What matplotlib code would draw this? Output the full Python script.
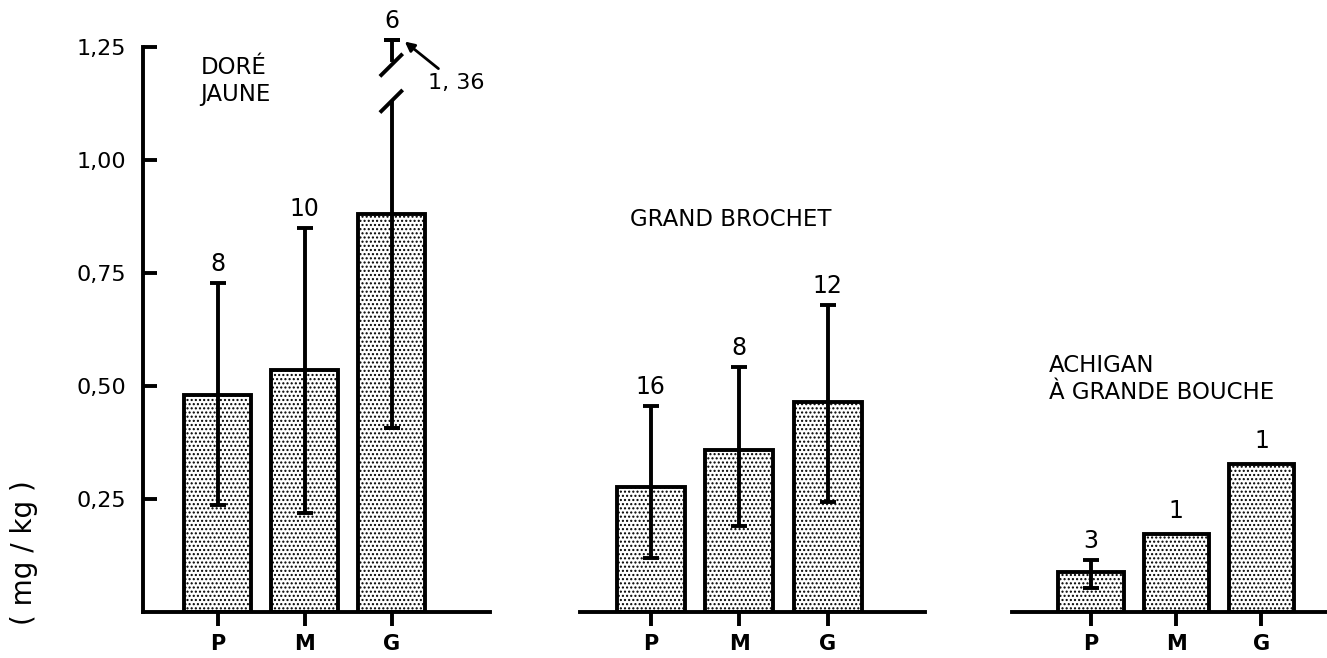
import numpy as np
import matplotlib.pyplot as plt

plt.rcParams["font.family"] = ["DejaVu Sans"]
plt.rcParams["hatch.linewidth"] = 1.0

# fish size classes and y axis (mercury, mg/kg)
sizes = ["P", "M", "G"]
yticks = [0.25, 0.50, 0.75, 1.00, 1.25]
ytick_labels = ["0,25", "0,50", "0,75", "1,00", "1,25"]

species = ["DORÉ\nJAUNE", "GRAND BROCHET", "ACHIGAN\nÀ GRANDE BOUCHE"]

dore_mean = [0.48, 0.535, 0.88]
dore_low = [0.237, 0.22, 0.407]
dore_high = [0.728, 0.85, 1.36]
dore_n = [8, 10, 6]

brochet_mean = [0.277, 0.358, 0.465]
brochet_low = [0.12, 0.19, 0.243]
brochet_high = [0.456, 0.542, 0.68]
brochet_n = [16, 8, 12]

achigan_mean = [0.088, 0.173, 0.327]
achigan_low = [0.053, np.nan, np.nan]
achigan_high = [0.115, np.nan, np.nan]
achigan_n = [3, 1, 1]

W, H = 1327, 658
BASE = 612      # pixel row of the zero line
SCALE = 452     # pixels per mg/kg
YMAX = 1.35
BREAK_TOP = 1.265   # where an off-scale whisker is capped
LW = 2.8

fig = plt.figure(figsize=(W / 100, H / 100), dpi=100)


def add_panel(left, right, xlim):
    ax = fig.add_axes([left / W, (H - BASE) / H, (right - left) / W, YMAX * SCALE / H])
    ax.set_xlim(*xlim)
    ax.set_ylim(0, YMAX)
    ax.patch.set_alpha(0)
    for side in ["top", "right", "left"]:
        ax.spines[side].set_visible(False)
    ax.spines["bottom"].set_linewidth(LW)
    ax.set_xticks(range(3))
    ax.set_xticklabels(sizes, fontsize=15, fontweight="bold")
    ax.tick_params(axis="x", direction="out", length=10, width=LW, pad=6)
    ax.set_yticks([])
    return ax


def draw_group(ax, means, low, high, counts, title, title_xy):
    x = np.arange(3)
    ax.bar(x, means, width=0.77, color="white", edgecolor="black",
           linewidth=LW, hatch="....", zorder=2)
    for i in range(3):
        if np.isnan(high[i]):
            ax.annotate(str(counts[i]), xy=(x[i], means[i]), xytext=(0, 8),
                        textcoords="offset points", ha="center", va="bottom",
                        fontsize=17)
            continue
        if high[i] > BREAK_TOP:
            # whisker runs off the scale: draw it broken and cap it at the top
            ax.errorbar([x[i]], [low[i]], yerr=[[0], [1.13 - low[i]]],
                        fmt="none", ecolor="black", elinewidth=LW,
                        capsize=0, zorder=3)
            ax.errorbar([x[i]], [low[i]], yerr=[[0], [0]], fmt="none",
                        ecolor="black", capsize=6, capthick=LW, zorder=3)
            ax.plot([x[i], x[i]], [1.222, BREAK_TOP], color="black", lw=LW, zorder=3)
            ax.plot([x[i] - 0.12, x[i] + 0.11], [1.188, 1.232], color="black", lw=LW, zorder=3)
            ax.plot([x[i] - 0.12, x[i] + 0.11], [1.108, 1.152], color="black", lw=LW, zorder=3)
            ax.errorbar([x[i]], [BREAK_TOP], yerr=[[0], [0]], fmt="none",
                        ecolor="black", capsize=6, capthick=LW, zorder=3)
            ax.annotate("1, 36", xy=(x[i] + 0.15, BREAK_TOP - 0.003),
                        xytext=(x[i] + 0.42, 1.17), ha="left", va="center",
                        fontsize=16,
                        arrowprops=dict(arrowstyle="-|>", color="black", lw=2,
                                        shrinkA=2, shrinkB=0, mutation_scale=14))
            top = BREAK_TOP
        else:
            ax.errorbar([x[i]], [means[i]],
                        yerr=[[means[i] - low[i]], [high[i] - means[i]]],
                        fmt="none", ecolor="black", elinewidth=LW,
                        capsize=6, capthick=LW, zorder=3)
            top = high[i]
        ax.annotate(str(counts[i]), xy=(x[i], top), xytext=(0, 5),
                    textcoords="offset points", ha="center", va="bottom",
                    fontsize=17)
    ax.text(title_xy[0], title_xy[1], title, ha="left", va="top",
            fontsize=16.5, linespacing=1.2)


ax1 = add_panel(143, 490, (-0.86, 3.13))
ax1.spines["left"].set_visible(True)
ax1.spines["left"].set_linewidth(LW)
ax1.spines["left"].set_bounds(0, 1.25)
ax1.set_yticks(yticks)
ax1.set_yticklabels(ytick_labels, fontsize=16)
ax1.tick_params(axis="y", direction="in", length=10, width=LW, pad=12)
draw_group(ax1, dore_mean, dore_low, dore_high, dore_n, species[0], (-0.2, 1.23))

ax2 = add_panel(580, 925, (-0.80, 3.10))
draw_group(ax2, brochet_mean, brochet_low, brochet_high, brochet_n, species[1], (-0.24, 0.893))

ax3 = add_panel(1012, 1327, (-0.93, 2.77))
draw_group(ax3, achigan_mean, achigan_low, achigan_high, achigan_n, species[2], (-0.5, 0.57))

fig.text(24 / W, 1 - 553 / H, "( mg / kg )", rotation=90, ha="center",
         va="center", fontsize=20)

fig.savefig("out.png", dpi=100)
